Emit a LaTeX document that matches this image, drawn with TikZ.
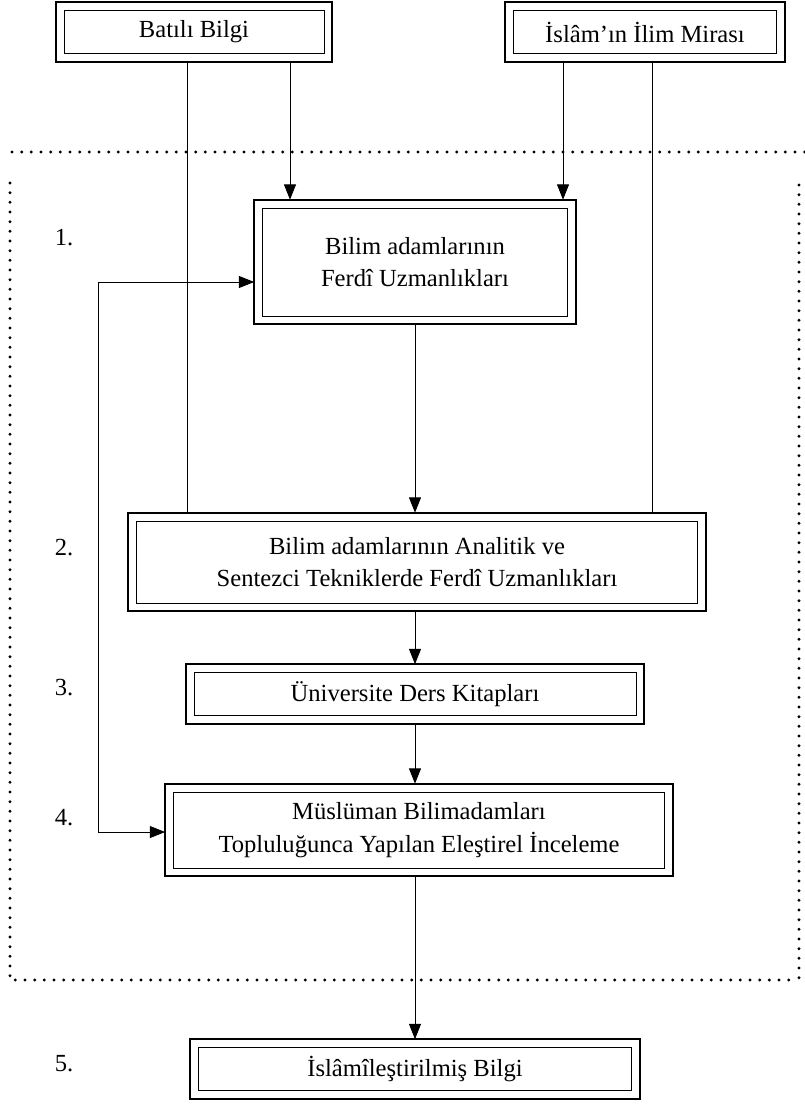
\documentclass[tikz,border=0pt]{standalone}
\usepackage{fontspec}
\setmainfont{Liberation Serif}
\usetikzlibrary{arrows.meta}

\tikzset{
  box/.style={draw=black, line width=0.8pt, align=center, inner sep=0pt, outer sep=2.5mm,
    font=\fontsize{21}{28}\selectfont,
    append after command={\pgfextra{\draw[line width=1.5pt] (\tikzlastnode.north west) rectangle (\tikzlastnode.south east);}}},
  flow/.style={-{Triangle[length=4.6mm,width=3.6mm]}, line width=0.8pt},
  plain/.style={line width=0.8pt},
  frame/.style={line width=2.8pt, line cap=round, dash pattern=on 0pt off 2.9mm},
  num/.style={font=\fontsize{21}{28}\selectfont}
}

\begin{document}
\begin{tikzpicture}[x=0.3mm, y=-0.3mm]

    \useasboundingbox (0,0) rectangle (805,1104);

    % Draw the source boxes.
    \node[box, minimum width=260*0.3mm, minimum height=43*0.3mm] (bati) at (194,32) {Batılı Bilgi};
    \node[box, minimum width=263*0.3mm, minimum height=43*0.3mm] (islam) at (645,32) {İslâm’ın İlim Mirası};

    % Draw the steps.
    \node[box, minimum width=305*0.3mm, minimum height=108*0.3mm] (uzm) at (415,262) {Bilim adamlarının\\Ferdî Uzmanlıkları};
    \node[box, minimum width=561*0.3mm, minimum height=82*0.3mm] (anal) at (417,562) {Bilim adamlarının Analitik ve\\Sentezci Tekniklerde Ferdî Uzmanlıkları};
    \node[box, minimum width=442*0.3mm, minimum height=43*0.3mm] (kitap) at (415,694) {Üniversite Ders Kitapları};
    \node[box, minimum width=491*0.3mm, minimum height=76*0.3mm] (elest) at (419,830) {Müslüman Bilimadamları\\Topluluğunca Yapılan Eleştirel İnceleme};
    \node[box, minimum width=433*0.3mm, minimum height=43*0.3mm] (bilgi) at (415,1069) {İslâmîleştirilmiş Bilgi};

    % Draw the step numbers.
    \node[num] (n1) at (64,238) {1.};
    \node[num] (n2) at (64,548) {2.};
    \node[num] (n3) at (64,688) {3.};
    \node[num] (n4) at (64,818) {4.};
    \node[num] (n5) at (64,1064) {5.};

    % Draw the dotted frame.
    \draw[frame] (12,152) -- (805,152);
    \draw[frame] (10,183) -- (10,980) -- (795,980);
    \draw[frame] (799,185) -- (799,980);

    % Draw the lines.
    \coordinate (lb) at (187,0);
    \coordinate (ab) at (290,0);
    \coordinate (ai) at (563,0);
    \coordinate (li) at (652,0);
    \coordinate (k1) at (98,282);
    \coordinate (k4) at (98,832);
    % Sources -> steps.
    \draw[plain] (bati.south -| lb) -- (anal.north -| lb);
    \draw[flow] (bati.south -| ab) -- (uzm.north -| ab);
    \draw[flow] (islam.south -| ai) -- (uzm.north -| ai);
    \draw[plain] (islam.south -| li) -- (anal.north -| li);
    % Step -> step.
    \draw[flow] (uzm.south) -- (uzm.south |- anal.north);
    \draw[flow] (anal.south -| kitap.north) -- (kitap.north);
    \draw[flow] (kitap.south) -- (kitap.south |- elest.north);
    \draw[flow] (elest.south -| bilgi.north) -- (bilgi.north);
    % Feedback.
    \draw[flow] (k1) -- (uzm.west |- k1);
    \draw[flow] (k1) -- (k4) -- (elest.west |- k4);
  \end{tikzpicture}
\end{document}
